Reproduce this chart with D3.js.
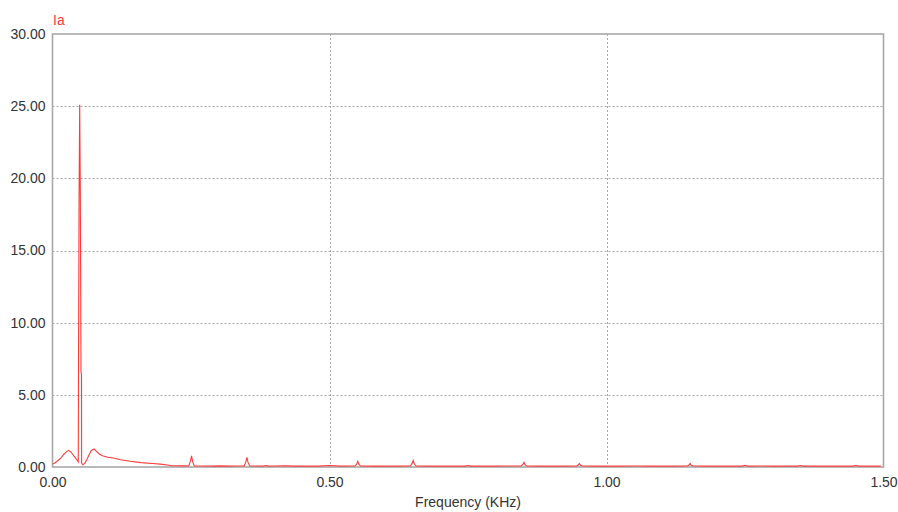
<!DOCTYPE html>
<html>
<head>
<meta charset="utf-8">
<script src="https://cdn.jsdelivr.net/npm/d3@7"></script>
<style>
  html, body { margin: 0; padding: 0; background: #ffffff; }
  svg { display: block; }
  text { font-family: Arial, "Liberation Sans", sans-serif; }
</style>
</head>
<body>
<svg id="chart" width="898" height="512"></svg>
<script>
// ---- data ----
const seriesName = "Ia";
const xAxisTitle = "Frequency (KHz)";
const xTicks = [0, 0.5, 1.0, 1.5];
const yTicks = [0, 5, 10, 15, 20, 25, 30];
const freqKHz = [
  0.000, 0.005, 0.010, 0.015, 0.020, 0.025, 0.029, 0.033, 0.037, 0.041, 0.044, 0.0465,
  0.0469, 0.0480, 0.0491, 0.0502, 0.0515, 0.0524, 0.0526,
  0.055, 0.058, 0.062, 0.066, 0.070, 0.075, 0.079, 0.084, 0.090, 0.100, 0.110, 0.123,
  0.140, 0.160, 0.180, 0.195, 0.210, 0.215, 0.240, 0.246, 0.249, 0.251, 0.253, 0.256,
  0.270, 0.290, 0.300, 0.320, 0.330, 0.346, 0.349, 0.351, 0.353, 0.356,
  0.380, 0.385, 0.390, 0.400, 0.420, 0.440, 0.460, 0.480, 0.500, 0.520, 0.540, 0.546, 0.549, 0.551, 0.553, 0.556,
  0.580, 0.600, 0.620, 0.646, 0.649, 0.651, 0.653, 0.656,
  0.680, 0.700, 0.720, 0.745, 0.750, 0.755, 0.780, 0.800, 0.820, 0.846, 0.849, 0.851, 0.853, 0.856,
  0.880, 0.900, 0.920, 0.946, 0.949, 0.951, 0.953, 0.956,
  0.980, 1.000, 1.020, 1.050, 1.080, 1.100, 1.120, 1.146, 1.149, 1.151, 1.153, 1.156,
  1.180, 1.200, 1.220, 1.245, 1.250, 1.255, 1.280, 1.300, 1.320, 1.345, 1.350, 1.355,
  1.380, 1.400, 1.420, 1.445, 1.450, 1.455, 1.480, 1.495
];
const amplitude = [
  0.20, 0.30, 0.45, 0.62, 0.85, 1.05, 1.15, 1.05, 0.85, 0.65, 0.50, 0.35,
  6.6, 19.0, 25.1, 19.0, 6.6, 6.4, 0.25,
  0.15, 0.25, 0.50, 0.85, 1.15, 1.25, 1.10, 0.92, 0.78, 0.68, 0.62, 0.50,
  0.40, 0.30, 0.24, 0.20, 0.12, 0.09, 0.08, 0.07, 0.40, 0.78, 0.35, 0.07,
  0.07, 0.06, 0.08, 0.06, 0.07, 0.07, 0.35, 0.67, 0.30, 0.07,
  0.06, 0.10, 0.06, 0.07, 0.08, 0.06, 0.07, 0.06, 0.10, 0.06, 0.07, 0.07, 0.20, 0.40, 0.20, 0.07,
  0.06, 0.07, 0.06, 0.07, 0.25, 0.46, 0.22, 0.07,
  0.06, 0.07, 0.06, 0.06, 0.10, 0.06, 0.07, 0.06, 0.07, 0.07, 0.18, 0.33, 0.16, 0.07,
  0.06, 0.07, 0.06, 0.07, 0.14, 0.25, 0.12, 0.07,
  0.06, 0.07, 0.06, 0.07, 0.06, 0.07, 0.06, 0.07, 0.14, 0.25, 0.12, 0.07,
  0.06, 0.07, 0.06, 0.06, 0.12, 0.06, 0.07, 0.06, 0.07, 0.06, 0.10, 0.06,
  0.07, 0.06, 0.07, 0.06, 0.10, 0.06, 0.07, 0.06
];

// ---- layout ----
const svg = d3.select("#chart");
const mLeft = 52.5, mRight = 883.5, mTop = 34, mBottom = 467;
const x = d3.scaleLinear().domain([0, 1.5]).range([mLeft, mRight]);
const y = d3.scaleLinear().domain([0, 30]).range([mBottom, mTop]);

// grid
const grid = svg.append("g");
grid.selectAll("line.h").data(yTicks.filter(d => d > 0 && d < 30)).join("line")
  .attr("x1", mLeft).attr("x2", mRight)
  .attr("y1", d => Math.round(y(d)) + 0.5).attr("y2", d => Math.round(y(d)) + 0.5)
  .attr("stroke", "#a8a8a8").attr("stroke-width", 1).attr("stroke-dasharray", "2,2");
grid.selectAll("line.v").data(xTicks.filter(d => d > 0 && d < 1.5)).join("line")
  .attr("x1", d => Math.round(x(d)) + 0.5).attr("x2", d => Math.round(x(d)) + 0.5)
  .attr("y1", mTop).attr("y2", mBottom)
  .attr("stroke", "#a8a8a8").attr("stroke-width", 1).attr("stroke-dasharray", "2,2");

// frame
svg.append("rect")
  .attr("x", mLeft).attr("y", mTop)
  .attr("width", mRight - mLeft).attr("height", mBottom - mTop)
  .attr("fill", "none").attr("stroke", "#a8a8a8").attr("stroke-width", 1.6);

// series line
const data = freqKHz.map((f, i) => ({ f, a: amplitude[i] }));
svg.append("path")
  .datum(data)
  .attr("fill", "none")
  .attr("stroke", "#ff3a3a")
  .attr("stroke-width", 1.1)
  .attr("d", d3.line().x(d => x(d.f)).y(d => y(d.a)));

// y axis labels
const yAxis = d3.axisLeft(y).tickValues(yTicks).tickFormat(d3.format(".2f")).tickSize(0).tickPadding(7);
const yg = svg.append("g").attr("transform", `translate(${mLeft},0)`).call(yAxis);
yg.select(".domain").remove();
yg.selectAll("text").attr("font-size", 14).attr("fill", "#333333")
  .attr("font-family", "Arial, 'Liberation Sans', sans-serif");

// x axis labels
const xAxis = d3.axisBottom(x).tickValues(xTicks).tickFormat(d3.format(".2f")).tickSize(0).tickPadding(10);
const xg = svg.append("g").attr("transform", `translate(0,${mBottom})`).call(xAxis);
xg.select(".domain").remove();
xg.selectAll("text").attr("font-size", 14).attr("fill", "#333333")
  .attr("font-family", "Arial, 'Liberation Sans', sans-serif");

// titles
svg.append("text").attr("x", x(0.75)).attr("y", 507).attr("text-anchor", "middle")
  .attr("font-size", 14).attr("fill", "#333333").text(xAxisTitle);
svg.append("text").attr("x", 53).attr("y", 25)
  .attr("font-size", 14).attr("fill", "#ff3a3a").text(seriesName);
</script>
</body>
</html>
